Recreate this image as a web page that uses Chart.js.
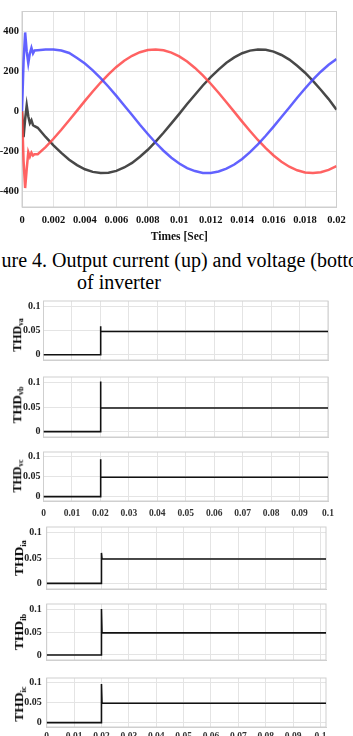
<!DOCTYPE html>
<html>
<head>
<meta charset="utf-8">
<script src="https://cdn.jsdelivr.net/npm/chart.js@4.4.1/dist/chart.umd.min.js"></script>
<style>
  html, body { margin: 0; padding: 0; background: #fff; }
  body { position: relative; width: 353px; height: 736px; overflow: hidden; }
  canvas { position: absolute; left: 0; }
  .cap {
    position: absolute; white-space: nowrap; color: #000;
    font-family: "Liberation Serif", "Times New Roman", serif;
    font-size: 20px; line-height: 20px;
  }
  .thd {
    position: absolute; white-space: nowrap; color: #000; line-height: 1;
    font-family: "Liberation Serif", "Times New Roman", serif; font-weight: bold;
    transform: translate(-50%, -50%) rotate(-90deg);
  }
  .thd sub { font-size: 62%; vertical-align: -0.3em; }
</style>
</head>
<body>
<canvas id="wave" width="353" height="246" style="top:0"></canvas>
<div class="cap" style="left:1.5px; top:250px">ure 4. Output current (up) and voltage (bottom)</div>
<div class="cap" style="left:77px; top:272px">of inverter</div>

<script>
/* ---------- dados: formas de onda (topo) ---------- */
const tWave = [0, 0.0001, 0.0002, 0.0003, 0.0004, 0.0005, 0.0006, 0.0007, 0.0008, 0.001,
  0.0015, 0.002, 0.0025, 0.003, 0.0035, 0.004, 0.0045, 0.005, 0.0055, 0.006,
  0.0065, 0.007, 0.0075, 0.008, 0.0085, 0.009, 0.0095, 0.01, 0.0105, 0.011,
  0.0115, 0.012, 0.0125, 0.013, 0.0135, 0.014, 0.0145, 0.015, 0.0155, 0.016,
  0.0165, 0.017, 0.0175, 0.018, 0.0185, 0.019, 0.0195, 0.02];
const waveBlue = [0, 250, 395, 300, 240, 290, 318, 290, 305, 306,
  309, 309, 304, 292, 267, 239, 205, 166, 123, 77,
  29, -19, -68, -114, -158, -198, -233, -262, -285, -300,
  -309, -309, -302, -288, -267, -239, -205, -166, -123, -77,
  -29, 19, 68, 114, 158, 198, 233, 262];
const waveRed = [0, -250, -385, -290, -205, -228, -208, -222, -215, -215,
  -180, -138, -93, -45, 3, 52, 99, 144, 185, 222,
  253, 278, 296, 307, 310, 306, 294, 275, 249, 217,
  180, 138, 93, 45, -3, -52, -99, -144, -185, -222,
  -253, -278, -296, -307, -310, -306, -294, -275];
const waveBlack = [0, -130, -40, 30, -25, -60, -45, -70, -75, -83,
  -129, -171, -209, -243, -270, -291, -304, -310, -308, -299,
  -282, -259, -228, -193, -152, -108, -61, -13, 36, 83,
  129, 171, 209, 243, 270, 291, 304, 310, 308, 299,
  282, 259, 228, 193, 152, 108, 61, 8];
const waveXTicks = [0, 0.002, 0.004, 0.006, 0.008, 0.01, 0.012, 0.014, 0.016, 0.018, 0.02];
const waveYTicks = [-400, -200, 0, 200, 400];

/* ---------- dados: THD ---------- */
const thdTime = [0, 0.02, 0.02, 0.0202, 0.102];
const thdVa = [0, 0, 0.059, 0.048, 0.048];
const thdVb = [0, 0, 0.102, 0.048, 0.048];
const thdVc = [0, 0, 0.093, 0.048, 0.048];
const thdIa = [0, 0, 0.060, 0.048, 0.048];
const thdIb = [0, 0, 0.100, 0.048, 0.048];
const thdIc = [0, 0, 0.096, 0.048, 0.048];
const thdXTicks = [0, 0.01, 0.02, 0.03, 0.04, 0.05, 0.06, 0.07, 0.08, 0.09, 0.1];
const thdYTicks = [0, 0.05, 0.1];

/* ---------- estilo ---------- */
const GRID_CO = '#e4e4e4';
const FRAME_CO = '#cfcfcf';
const SERIF = '"Liberation Serif", "Times New Roman", serif';

Chart.defaults.animation = false;
Chart.defaults.responsive = false;
Chart.defaults.plugins.legend.display = false;
Chart.defaults.plugins.tooltip.enabled = false;
Chart.defaults.elements.point.radius = 0;

/* moldura em volta da área do gráfico */
const frame = {
  id: 'frame',
  beforeDatasetsDraw(chart) {
    const { ctx, chartArea: a } = chart;
    ctx.save();
    ctx.strokeStyle = FRAME_CO;
    ctx.lineWidth = 1;
    ctx.strokeRect(a.left, a.top, a.right - a.left, a.bottom - a.top);
    ctx.restore();
  }
};

const pts = (xs, ys) => xs.map((x, i) => ({ x, y: ys[i] }));
const fixedTicks = list => s => { s.ticks = list.map(v => ({ value: v })); };

/* ---------- gráfico de cima ---------- */
new Chart(document.getElementById('wave'), {
  type: 'line',
  data: {
    datasets: [
      { data: pts(tWave, waveBlue), borderColor: 'rgba(70,70,255,0.85)', borderWidth: 2.5 },
      { data: pts(tWave, waveRed), borderColor: 'rgba(255,70,70,0.85)', borderWidth: 2.5 },
      { data: pts(tWave, waveBlack), borderColor: 'rgba(40,40,40,0.85)', borderWidth: 2.5 }
    ]
  },
  options: {
    layout: { padding: { top: 11.5, right: 16.5, left: 0, bottom: 0 } },
    scales: {
      x: {
        type: 'linear', min: 0, max: 0.02,
        afterBuildTicks: fixedTicks(waveXTicks),
        afterFit: s => { s.height = 39; },
        grid: { color: GRID_CO, drawTicks: false },
        border: { color: FRAME_CO },
        ticks: { padding: 7, color: '#111', maxRotation: 0, autoSkip: false,
                 font: { family: SERIF, weight: 'bold', size: 10.5 },
                 callback: v => String(v) },
        title: { display: true, text: 'Times [Sec]', color: '#111',
                 padding: { top: 0, bottom: 2 },
                 font: { family: SERIF, weight: 'bold', size: 11.5 } }
      },
      y: {
        type: 'linear', min: -480, max: 500,
        afterBuildTicks: fixedTicks(waveYTicks),
        afterFit: s => { s.width = 22; },
        grid: { color: GRID_CO, drawTicks: false },
        border: { color: FRAME_CO },
        ticks: { padding: 3, color: '#111',
                 font: { family: SERIF, weight: 'bold', size: 10.5 },
                 callback: v => String(v) }
      }
    }
  },
  plugins: [frame]
});

/* ---------- gráficos THD ---------- */
function thdChart(values, box, xMax, showX, xPad, label) {
  const topPad = 8;
  const extra = showX ? 26 : 4;
  const h = Math.round(box.bottom - box.top + topPad + extra);
  const cv = document.createElement('canvas');
  cv.width = 353;
  cv.height = h;
  cv.style.top = (box.top - topPad) + 'px';
  document.body.appendChild(cv);

  new Chart(cv, {
    type: 'line',
    data: { datasets: [{ data: pts(thdTime, values), borderColor: '#111', borderWidth: 1.6 }] },
    options: {
      layout: { padding: { top: topPad, right: 353 - box.right, left: 0, bottom: 0 } },
      scales: {
        x: {
          type: 'linear', min: 0, max: xMax,
          afterBuildTicks: fixedTicks(thdXTicks),
          afterFit: s => { s.height = h - topPad - (box.bottom - box.top); },
          grid: { color: GRID_CO, drawTicks: false },
          border: { color: FRAME_CO },
          ticks: { display: showX, padding: xPad, color: '#333', maxRotation: 0, autoSkip: false,
                   font: { family: SERIF, weight: 'bold', size: 9.5 },
                   callback: v => String(v) }
        },
        y: {
          type: 'linear', min: -0.011, max: 0.111,
          afterBuildTicks: fixedTicks(thdYTicks),
          afterFit: s => { s.width = box.left; },
          grid: { color: GRID_CO, drawTicks: false },
          border: { color: FRAME_CO },
          ticks: { padding: box.left > 45 ? 5 : 3, color: '#222',
                   font: { family: SERIF, weight: 'bold', size: 10 },
                   callback: v => String(v) }
        }
      }
    },
    plugins: [frame]
  });

  const lab = document.createElement('div');
  lab.className = 'thd';
  lab.style.fontSize = label.size + 'px';
  lab.style.left = label.cx + 'px';
  lab.style.top = label.cy + 'px';
  lab.innerHTML = 'THD<sub>' + label.sub + '</sub>';
  document.body.appendChild(lab);
}

thdChart(thdVa, { left: 43.5, right: 328, top: 299.5, bottom: 364 }, 0.1, false, 0, { size: 12, cx: 18, cy: 335, sub: 'va' });
thdChart(thdVb, { left: 43.5, right: 328, top: 375.5, bottom: 441 }, 0.1, false, 0, { size: 13, cx: 18, cy: 405, sub: 'vb' });
thdChart(thdVc, { left: 43.5, right: 328, top: 450.5, bottom: 500.5 }, 0.1, true, 7, { size: 12, cx: 18, cy: 476, sub: 'vc' });
thdChart(thdIa, { left: 46.7, right: 326, top: 524, bottom: 595.5 }, 0.102, false, 0, { size: 13.5, cx: 19.5, cy: 558, sub: 'ia' });
thdChart(thdIb, { left: 46.7, right: 326, top: 601, bottom: 667 }, 0.102, false, 0, { size: 13.5, cx: 19.5, cy: 632, sub: 'ib' });
thdChart(thdIc, { left: 46.7, right: 326, top: 675, bottom: 727 }, 0.102, true, 4, { size: 13.5, cx: 19.5, cy: 704, sub: 'ic' });
</script>
</body>
</html>
